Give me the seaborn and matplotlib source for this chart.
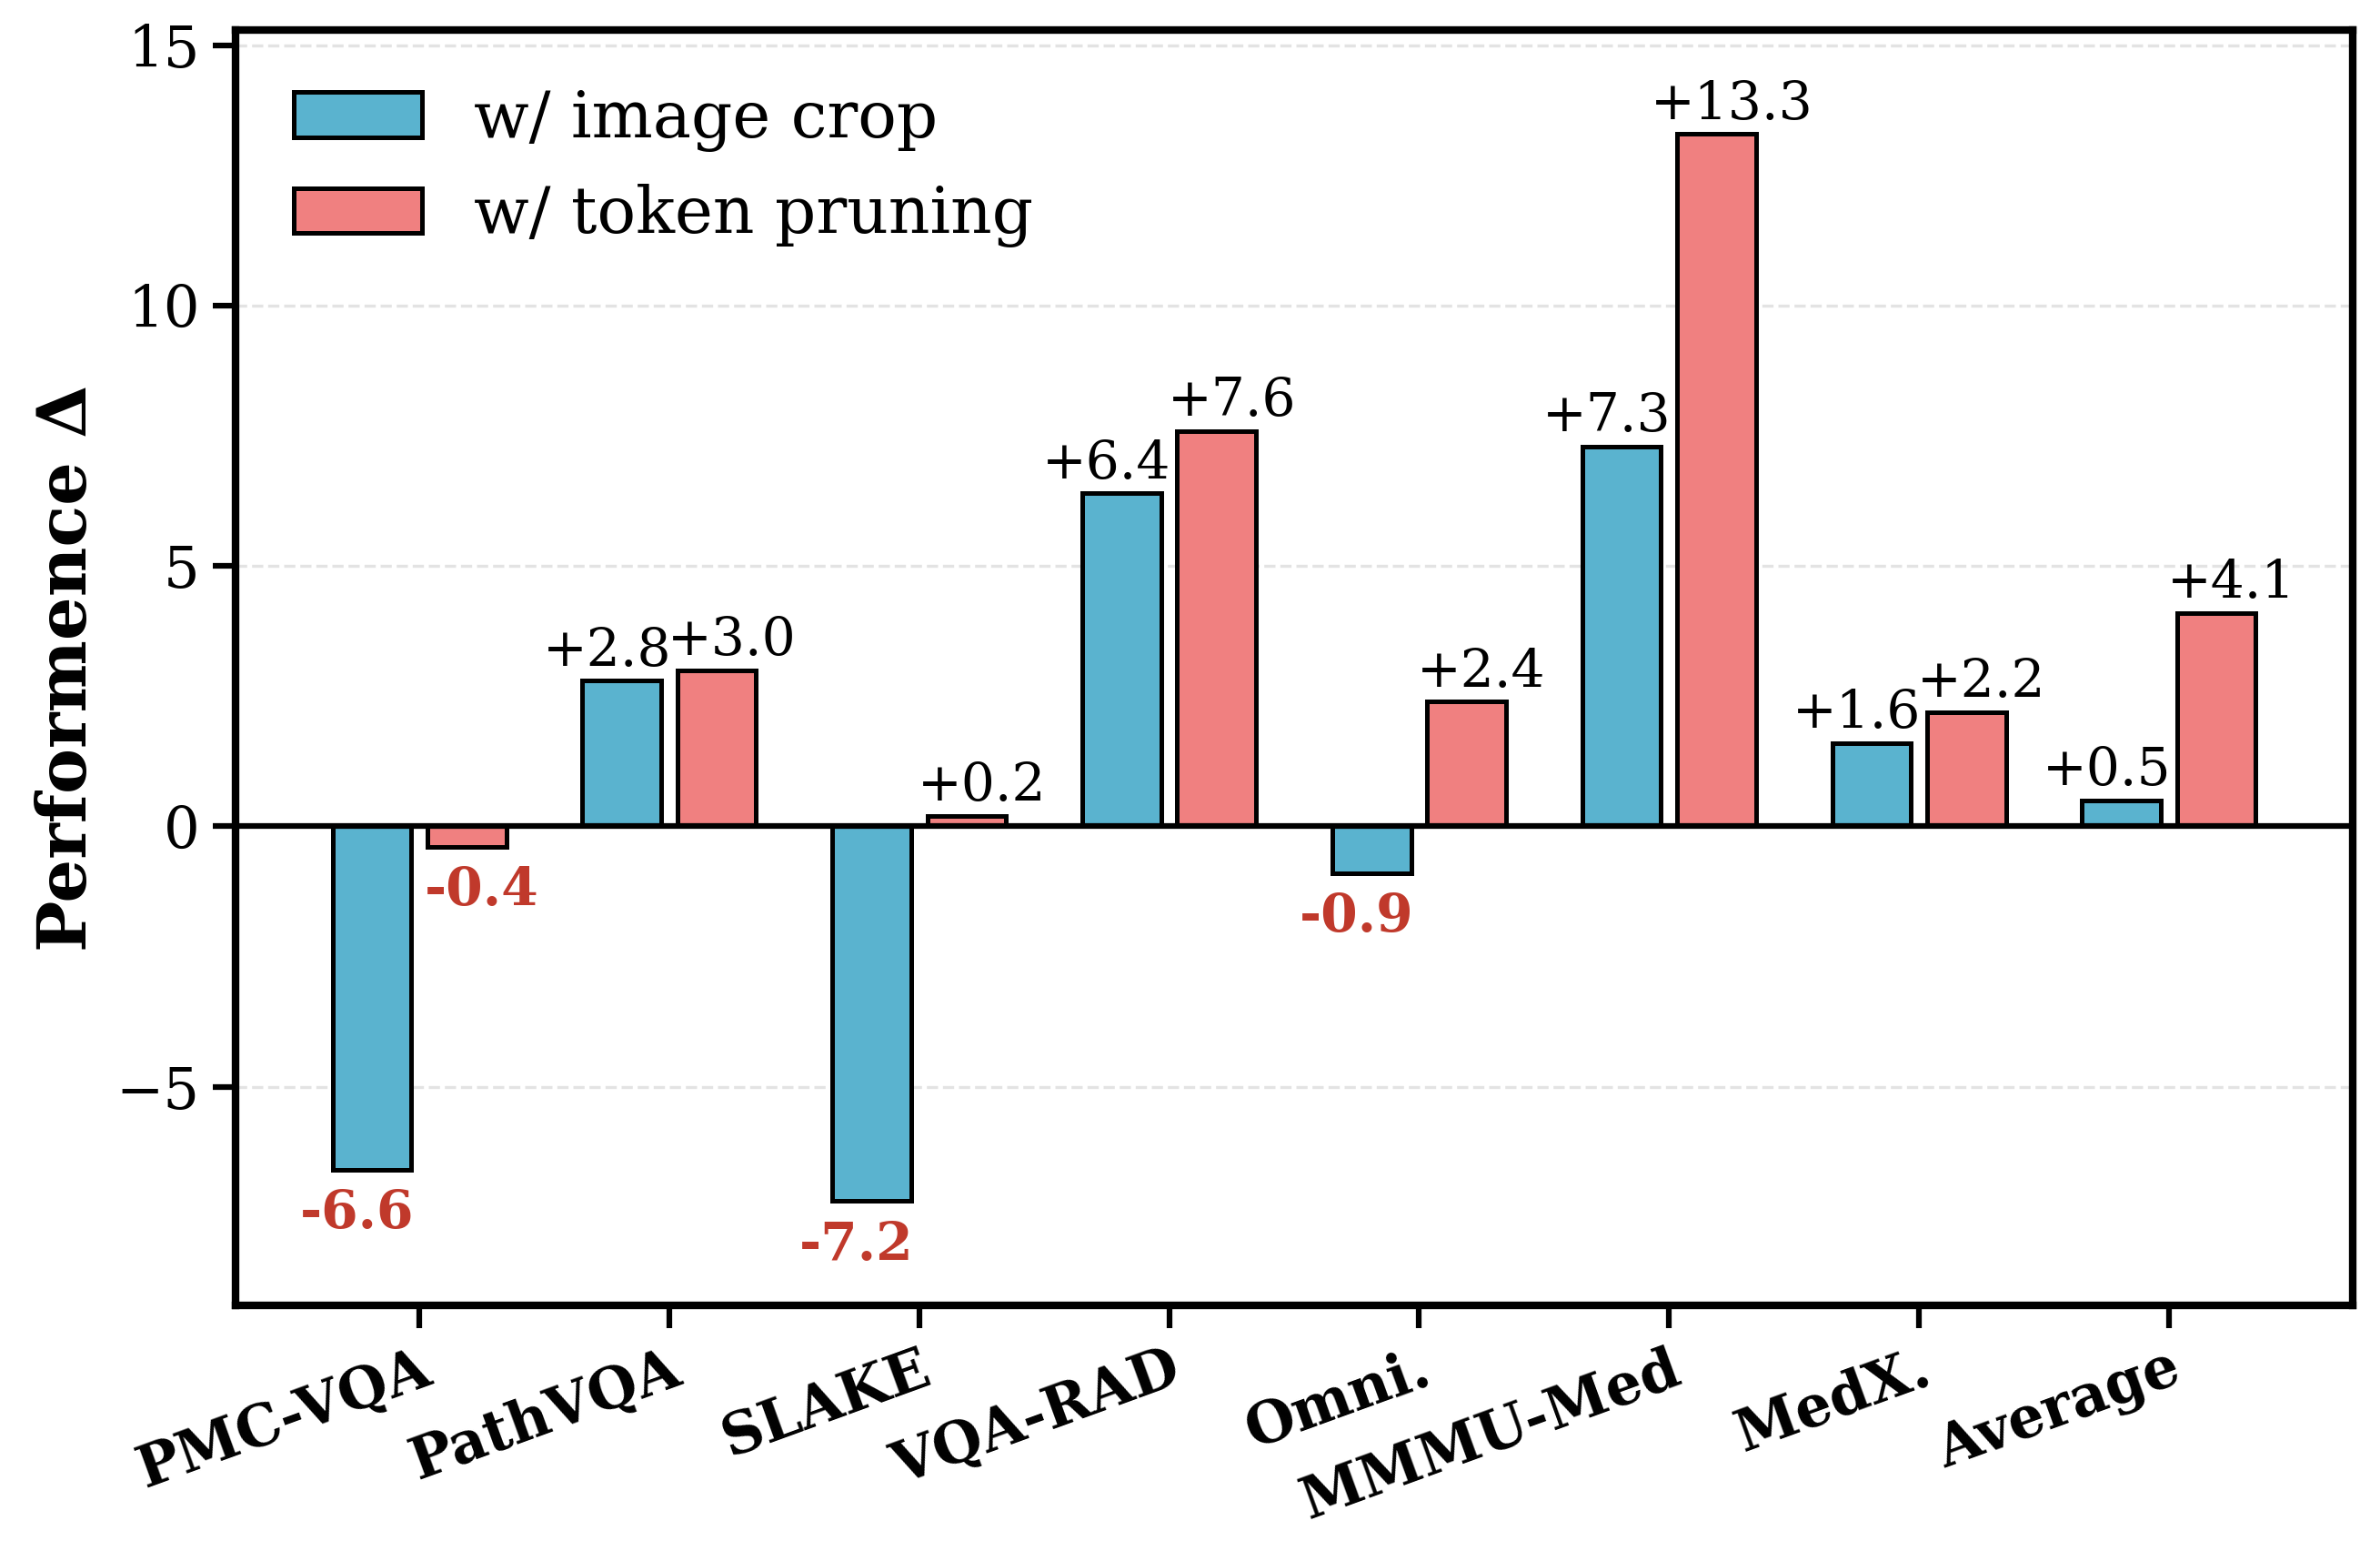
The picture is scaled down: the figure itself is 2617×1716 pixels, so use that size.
import pandas as pd
import seaborn as sns
import matplotlib.pyplot as plt

# Chart values
datasets = ['PMC-VQA', 'PathVQA', 'SLAKE', 'VQA-RAD', 'Omni.', 'MMMU-Med', 'MedX.', 'Average']
image_crop = [-6.6, 2.8, -7.2, 6.4, -0.9, 7.3, 1.6, 0.5]
token_pruning = [-0.4, 3.0, 0.2, 7.6, 2.4, 13.3, 2.2, 4.1]
methods = ['w/ image crop', 'w/ token pruning']


def make_plot(output_path='out.png'):
    sns.set_theme(style='ticks')
    plt.rcParams['font.family'] = ['DejaVu Serif']
    plt.rcParams['axes.unicode_minus'] = True
    for key in ['text.color', 'axes.labelcolor', 'xtick.color', 'ytick.color', 'axes.edgecolor']:
        plt.rcParams[key] = 'black'

    df = pd.DataFrame({
        'dataset': datasets * 2,
        'delta': image_crop + token_pruning,
        'method': [methods[0]] * len(datasets) + [methods[1]] * len(datasets),
    })

    palette = {methods[0]: '#5AB3CF', methods[1]: '#F08080'}

    fig, ax = plt.subplots(figsize=(2617 / 300, 1716 / 300), dpi=300)
    fig.subplots_adjust(left=0.099, right=0.9885, top=0.9808, bottom=0.1638)

    sns.barplot(data=df, x='dataset', y='delta', hue='method', palette=palette,
                width=0.76, gap=0.17, edgecolor='black', linewidth=1.2,
                saturation=1, errorbar=None, ax=ax, zorder=3)

    # value labels
    for i in range(len(datasets)):
        for val, dx in [(image_crop[i], -0.25), (token_pruning[i], 0.25)]:
            if val >= 0:
                ax.text(i + dx, val + 0.08, f'+{val:.1f}', ha='center', va='bottom',
                        fontsize=14, color='black')
            else:
                ax.text(i + dx, val - 0.35, f'{val:.1f}', ha='center', va='top',
                        fontsize=14, color='#C0392B', fontweight='bold')

    ax.axhline(0, color='black', linewidth=1.5, zorder=4)
    ax.yaxis.grid(True, linestyle='--', color='#dddddd', linewidth=0.8, alpha=0.8, zorder=0)
    ax.set_axisbelow(True)

    ax.set_xlim(-0.735, len(datasets) - 1 + 0.735)
    ax.set_ylim(min(image_crop + token_pruning) - 2, max(image_crop + token_pruning) + 2)

    ax.set_xlabel('')
    ax.set_ylabel('Performence Δ', fontsize=18, fontweight='bold')
    ax.set_xticks(range(len(datasets)))
    ax.set_xticklabels(datasets, rotation=20, ha='right', rotation_mode='anchor',
                       fontsize=15, fontweight='bold')
    ax.tick_params(axis='y', labelsize=15)
    ax.tick_params(axis='both', length=6, width=1.5, colors='black')

    for spine in ax.spines.values():
        spine.set_linewidth(2)
        spine.set_color('black')

    ax.legend(loc='upper left', fontsize=17, frameon=False)

    plt.savefig(output_path, dpi=300)
    plt.close()


if __name__ == "__main__":
    make_plot()
